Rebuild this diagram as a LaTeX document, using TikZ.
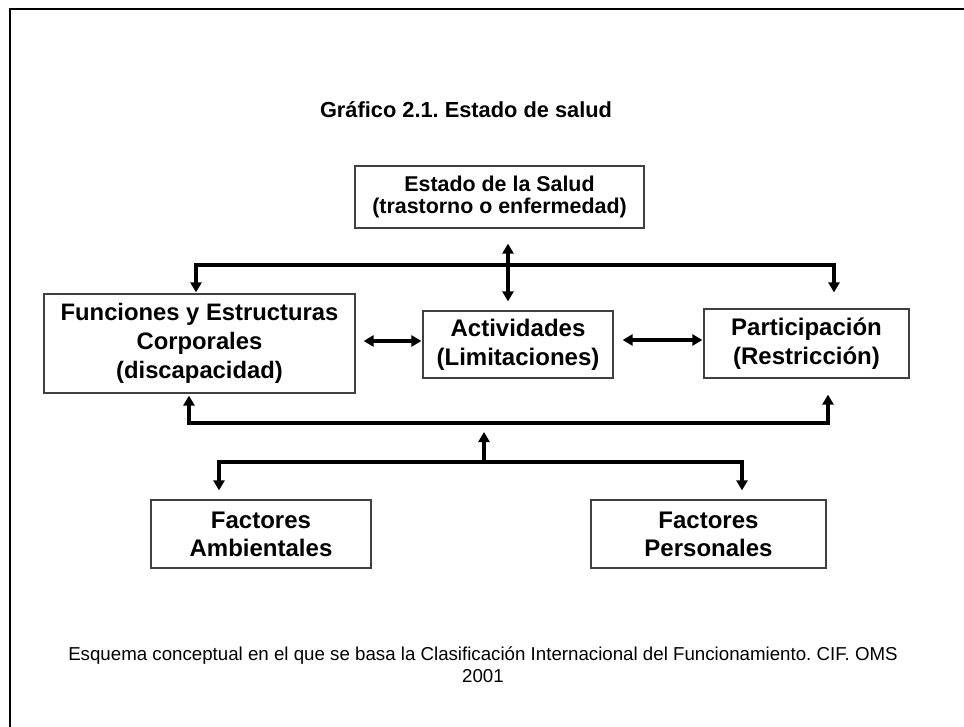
\documentclass[tikz,border=0pt]{standalone}
\usepackage{fontspec}
\setmainfont{Liberation Sans}
\usetikzlibrary{arrows.meta}
\frenchspacing
\begin{document}
\begin{tikzpicture}[x=1pt,y=-1pt,
  box/.style={draw=black!75, line width=1.2pt, fill=white, inner sep=0pt,
    align=center, font=\bfseries\fontsize{24}{29}\selectfont},
  link/.style={line width=3.5pt, -{Triangle[width=11pt,length=10pt]}},
  biglink/.style={line width=3.5pt, {Triangle[width=11pt,length=10pt]}-{Triangle[width=11pt,length=10pt]}}
]
\useasboundingbox (0,0) rectangle (964,727);
% page frame, open to the right and the bottom
\draw[line width=2pt] (10,740) -- (10,9) -- (980,9);

% heading
\node (title) at (466,110) {\bfseries\fontsize{21.8}{26}\selectfont Gráfico 2.1. Estado de salud};

% boxes
\node[box, minimum width=289pt, minimum height=62pt, font=\bfseries\fontsize{21.4}{22}\selectfont]
  (estado) at (499.5,197) {Estado de la Salud\\(trastorno o enfermedad)};
\node[box, minimum width=311pt, minimum height=99pt, font=\bfseries\fontsize{23.8}{29}\selectfont]
  (func) at (199.5,343.5) {Funciones y Estructuras\\Corporales\\(discapacidad)};
\node[box, minimum width=190pt, minimum height=67pt] (activ) at (518,344.5) {Actividades\\(Limitaciones)};
\node[box, minimum width=205pt, minimum height=69pt] (part) at (806.5,343.5) {Participación\\(Restricción)};
\node[box, minimum width=220pt, minimum height=68pt, font=\bfseries\fontsize{24}{28}\selectfont]
  (amb) at (261,534) {Factores\\Ambientales};
\node[box, minimum width=235pt, minimum height=68pt, font=\bfseries\fontsize{24}{28}\selectfont]
  (pers) at (708.5,534) {Factores\\Personales};

% bus points
\coordinate (topbus) at (508,265);
\coordinate (botbus) at (484,423);
\coordinate (lowbus) at (484,462);
\coordinate (rowA) at (0,341);
\coordinate (rowB) at (0,340);

% health condition <-> activities, crossing the upper bus
\draw[biglink, shorten <=15pt, shorten >=9pt] ([xshift=8.5pt]estado.south) -- ([xshift=-10pt]activ.north);

% upper bus
\draw[link, shorten >=1pt] (topbus) -| ([xshift=-3.5pt]func.north);
\draw[link, shorten >=16pt] (topbus) -| ([xshift=27.5pt]part.north);

% horizontal links in the middle row
\draw[biglink, shorten <=8pt, shorten >=1pt] (func.east |- rowA) -- (activ.west |- rowA);
\draw[biglink, shorten <=9pt, shorten >=1pt] (activ.east |- rowB) -- (part.west |- rowB);

% lower bus
\draw[link, shorten >=2pt] (botbus) -| ([xshift=-10.5pt]func.south);
\draw[link, shorten >=16pt] (botbus) -| ([xshift=21.5pt]part.south);
\draw[link, shorten >=9pt] (lowbus) -- (botbus);

% contextual factors
\draw[link, shorten >=9pt] (lowbus) -| ([xshift=-42pt]amb.north);
\draw[link, shorten >=9pt] (lowbus) -| ([xshift=33.5pt]pers.north);

% caption
\node[align=center, font=\fontsize{18.7}{22}\selectfont] (caption) at (483,665)
  {Esquema conceptual en el que se basa la Clasificación Internacional del Funcionamiento. CIF. OMS\\2001};
\end{tikzpicture}
\end{document}
